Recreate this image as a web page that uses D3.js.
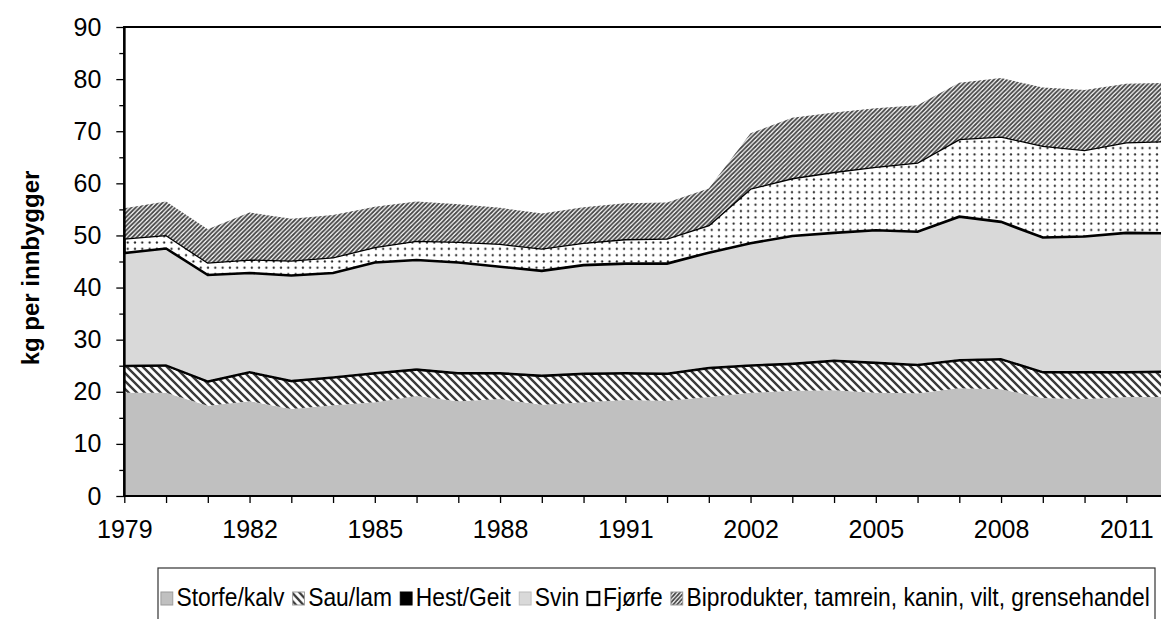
<!DOCTYPE html>
<html><head><meta charset="utf-8">
<script src="https://cdn.jsdelivr.net/npm/d3@7"></script>
<style>
body{margin:0;background:#fff}
svg{display:block}
text{font-family:"Liberation Sans",Arial,Helvetica,sans-serif;fill:#000}
</style>
</head><body>
<svg id="c" width="1161" height="619"></svg>
<script>
// ---- data ----
const categories = ["1979","1980","1981","1982","1983","1984","1985","1986","1987","1988","1989","1990","1991","1995","2000","2002","2003","2004","2005","2006","2007","2008","2009","2010","2011","2012"];
const tickLabels = ["1979","1982","1985","1988","1991","2002","2005","2008","2011"];
const seriesNames = ["Storfe/kalv","Sau/lam","Hest/Geit","Svin","Fjørfe","Biprodukter, tamrein, kanin, vilt, grensehandel"];
const storfe = [19.8,19.8,17.3,18.2,16.7,17.4,18.0,19.2,18.2,18.6,17.5,18.0,18.4,18.3,19.0,19.8,20.2,20.3,19.8,19.7,20.7,20.5,18.8,18.6,19.0,19.0];
const sau    = [5.0,5.1,4.5,5.4,5.2,5.2,5.4,4.9,5.2,4.8,5.4,5.3,5.0,5.0,5.4,5.1,5.0,5.5,5.6,5.3,5.2,5.6,4.8,5.0,4.6,4.7];
const hest   = [0.4,0.4,0.4,0.4,0.4,0.4,0.4,0.4,0.4,0.4,0.4,0.4,0.4,0.4,0.4,0.4,0.4,0.4,0.4,0.4,0.4,0.4,0.4,0.4,0.4,0.4];
const svin   = [21.4,22.2,20.2,18.8,20.0,19.8,21.0,20.8,21.0,20.2,19.9,20.6,20.8,20.9,21.9,23.2,24.3,24.3,25.2,25.3,27.3,26.1,25.6,25.8,26.5,26.3];
const fjorfe = [2.8,2.6,2.4,2.6,2.9,3.0,3.0,3.7,4.0,4.4,4.3,4.3,4.7,4.8,5.3,10.5,11.1,11.7,12.2,13.3,14.9,16.4,17.6,16.6,17.4,17.7];
const bipro  = [5.8,6.4,6.4,9.0,8.0,8.1,7.7,7.5,7.2,6.9,6.7,6.8,6.9,6.9,7.0,10.6,11.6,11.4,11.2,11.0,10.8,11.2,11.2,11.5,11.2,11.2];
const yTicks = [0,10,20,30,40,50,60,70,80,90];

(function(){
// ---- build table ----
const keys = ["storfe","sau","hest","svin","fjorfe","bipro"];
const cols = {storfe, sau, hest, svin, fjorfe, bipro};
const rows = categories.map((c,i)=>{const r={cat:c}; keys.forEach(k=>r[k]=cols[k][i]); return r;});

const svg = d3.select("#c");
const W = 1161;
const pL = 124.3, pT = 27, pB = 496;
const step = 41.75;
const x = d3.scalePoint().domain(categories).range([pL, pL + step*(categories.length-1)]);
const y = d3.scaleLinear().domain([0,90]).range([pB, pT]);

// ---- patterns ----
const defs = svg.append("defs");
const pSau = defs.append("pattern").attr("id","pSau").attr("patternUnits","userSpaceOnUse").attr("width",8).attr("height",8);
pSau.append("rect").attr("width",8).attr("height",8).attr("fill","#fff");
pSau.append("path").attr("d","M-2,-2L10,10M-2,6L2,10M6,-2L10,2").attr("stroke","#3a3a3a").attr("stroke-width",2.4);

const pBi = defs.append("pattern").attr("id","pBi").attr("patternUnits","userSpaceOnUse").attr("width",4.4).attr("height",4.4);
pBi.append("rect").attr("width",4.4).attr("height",4.4).attr("fill","#fff");
pBi.append("path").attr("d","M-1.1,1.1L1.1,-1.1M0,4.4L4.4,0M3.3,5.5L5.5,3.3").attr("stroke","#444").attr("stroke-width",1.8);

const pFj = defs.append("pattern").attr("id","pFj").attr("patternUnits","userSpaceOnUse").attr("width",7.3).attr("height",6.3);
pFj.append("rect").attr("width",7.3).attr("height",6.3).attr("fill","#fff");
pFj.append("circle").attr("cx",3.6).attr("cy",3.1).attr("r",1.1).attr("fill","#222");

const styles = {
  storfe:{fill:"#c0c0c0", stroke:"none", sw:0},
  sau:{fill:"url(#pSau)", stroke:"none", sw:0},
  hest:{fill:"#000", stroke:"#000", sw:1},
  svin:{fill:"#d9d9d9", stroke:"none", sw:0},
  fjorfe:{fill:"url(#pFj)", stroke:"#000", sw:2.6},
  bipro:{fill:"url(#pBi)", stroke:"none", sw:0}
};

// ---- areas ----
const series = d3.stack().keys(keys)(rows);
const area = d3.area().x(d=>x(d.data.cat)).y0(d=>y(d[0])).y1(d=>y(d[1]));
const gA = svg.append("g");
series.forEach(s=>{
  const st = styles[s.key];
  gA.append("path").attr("d", area(s)).attr("fill", st.fill)
    .attr("stroke", st.stroke).attr("stroke-width", st.sw).attr("stroke-linejoin","miter");
});

// ---- frame ----
svg.append("rect").attr("x",pL).attr("y",pT).attr("width",x.range()[1]-pL).attr("height",pB-pT)
  .attr("fill","none").attr("stroke","#000").attr("stroke-width",2);

// ---- axes ----
const fs = 25;
const yAx = svg.append("g").attr("transform",`translate(${pL},0)`)
  .call(d3.axisLeft(y).tickValues(yTicks).tickSize(8).tickPadding(15).tickFormat(d3.format("d")));
const yMin = svg.append("g").attr("transform",`translate(${pL},0)`)
  .call(d3.axisLeft(y).tickValues(yTicks.slice(0,-1).map(v=>v+5)).tickSize(5).tickFormat(""));
[yAx,yMin].forEach(g=>{g.select(".domain").remove(); g.selectAll("line").attr("stroke","#000").attr("stroke-width",1.3);});
yAx.selectAll("text").attr("font-size",fs).attr("font-family","Liberation Sans, Arial, sans-serif").attr("fill","#000");

const xAx = svg.append("g").attr("transform",`translate(0,${pB})`)
  .call(d3.axisBottom(x).tickSize(7).tickPadding(17).tickFormat(d=>tickLabels.includes(d)?d:""));
xAx.select(".domain").remove();
xAx.selectAll("line").attr("stroke","#000").attr("stroke-width",1.3);
xAx.selectAll("text").attr("font-size",fs).attr("font-family","Liberation Sans, Arial, sans-serif").attr("fill","#000");

svg.append("line").attr("x1",pL).attr("x2",W).attr("y1",pB).attr("y2",pB).attr("stroke","#000").attr("stroke-width",2);
svg.append("line").attr("x1",pL).attr("x2",pL).attr("y1",pT-1).attr("y2",pB+1).attr("stroke","#000").attr("stroke-width",2.4);

// ---- y title ----
svg.append("text").attr("transform","translate(39,268) rotate(-90)").attr("text-anchor","middle")
  .attr("font-size",24).attr("font-weight","bold").text("kg per innbygger");

// ---- legend ----
const lgX0 = 158, lgY0 = 568, lgX1 = 1155;
svg.append("rect").attr("x",lgX0).attr("y",lgY0).attr("width",lgX1-lgX0).attr("height",70)
  .attr("fill","#fff").attr("stroke","#333").attr("stroke-width",1.2);
const lg = svg.append("g");
const sw = 13, base = 606;
let cx = 0;
const swStyle = {
  storfe:{fill:"#c0c0c0",stroke:"#999",w:1},
  sau:{fill:"url(#pSau)",stroke:"#999",w:1},
  hest:{fill:"#000",stroke:"#000",w:1},
  svin:{fill:"#d9d9d9",stroke:"#bbb",w:1},
  fjorfe:{fill:"#fff",stroke:"#000",w:2.2},
  bipro:{fill:"url(#pBi)",stroke:"#999",w:1}
};
keys.forEach((k,i)=>{
  const s = swStyle[k];
  lg.append("rect").attr("x",cx+1).attr("y",base-sw-1).attr("width",sw).attr("height",sw)
    .attr("fill",s.fill).attr("stroke",s.stroke).attr("stroke-width",s.w);
  cx += sw + 5;
  const t = lg.append("text").attr("x",cx).attr("y",base).attr("font-size",fs).text(seriesNames[i]);
  cx += t.node().getComputedTextLength() + 8;
});
const total = cx - 8;
const kx = (1150 - 160) / total;
lg.attr("transform",`translate(160,0) scale(${kx},1)`);
})();
</script>
</body></html>
